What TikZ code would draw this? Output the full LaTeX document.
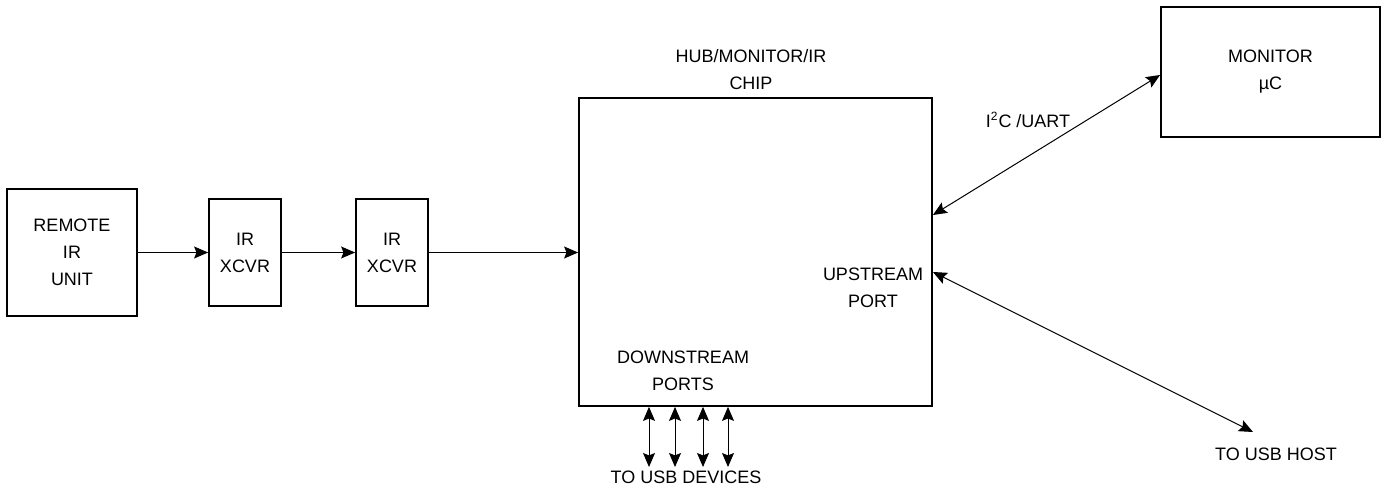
\documentclass[tikz,border=0pt]{standalone}
\usepackage{fontspec}
\setmainfont{Liberation Sans}
\usepackage{tikz}
\usetikzlibrary{arrows.meta, positioning}

\tikzset{
	blk/.style={draw, line width=0.9pt, inner sep=0pt, align=center},
	lbl/.style={inner sep=0pt, align=center},
	link/.style={line width=0.5pt, -{Stealth[length=7pt,width=6pt,inset=1.2pt]}},
	duplex/.style={line width=0.5pt, {Stealth[length=7pt,width=6pt,inset=1.2pt]}-{Stealth[length=7pt,width=6pt,inset=1.2pt]}},
}

\begin{document}
\begin{tikzpicture}[x=0.5pt, y=-0.5pt, font=\fontsize{9}{13.5}\selectfont]
	\useasboundingbox (0,0) rectangle (1388,496);
	\node[blk, minimum width=65pt, minimum height=63.5pt] (remote) at (72, 252.5) {REMOTE\\IR\\UNIT};
	\node[blk, minimum width=36pt, minimum height=53.5pt] (xcvra) at (245, 252.5) {IR\\XCVR};
	\node[blk, minimum width=36pt, minimum height=53.5pt] (xcvrb) at (392, 252.5) {IR\\XCVR};
	\node[blk, minimum width=176.5pt, minimum height=154pt] (chip) at (755.5, 252) {};
	\node[blk, minimum width=109.5pt, minimum height=65pt] (monitor) at (1270.5, 72) {MONITOR\\µC};
	\node[lbl] (chiplbl) at (751, 70) {HUB/MONITOR/IR\\CHIP};
	\node[lbl] (uplbl) at (873, 288) {UPSTREAM\\PORT};
	\node[lbl] (downlbl) at (683, 371) {DOWNSTREAM\\PORTS};
	\node[lbl] (devlbl) at (686, 477) {TO USB DEVICES};
	\node[lbl] (hostlbl) at (1276, 454) {TO USB HOST};
	\node[lbl] (buslbl) at (1028, 120) {I\textsuperscript{2}C /UART};
	\coordinate (hostend) at (1253, 432);

	\draw[link] (remote) -- (xcvra);
	\draw[link] (xcvra) -- (xcvrb);
	\draw[link] (xcvrb) -- (chip.west |- xcvrb);
	\draw[duplex] ([yshift=18.5pt]chip.east) -- ([yshift=-1.5pt]monitor.west);
	\draw[duplex] ([yshift=-10pt]chip.east) -- (hostend);
	\foreach \x in {649,675,703,728}
		\draw[duplex] (chip.south -| \x,0) -- (\x,467);
\end{tikzpicture}
\end{document}
